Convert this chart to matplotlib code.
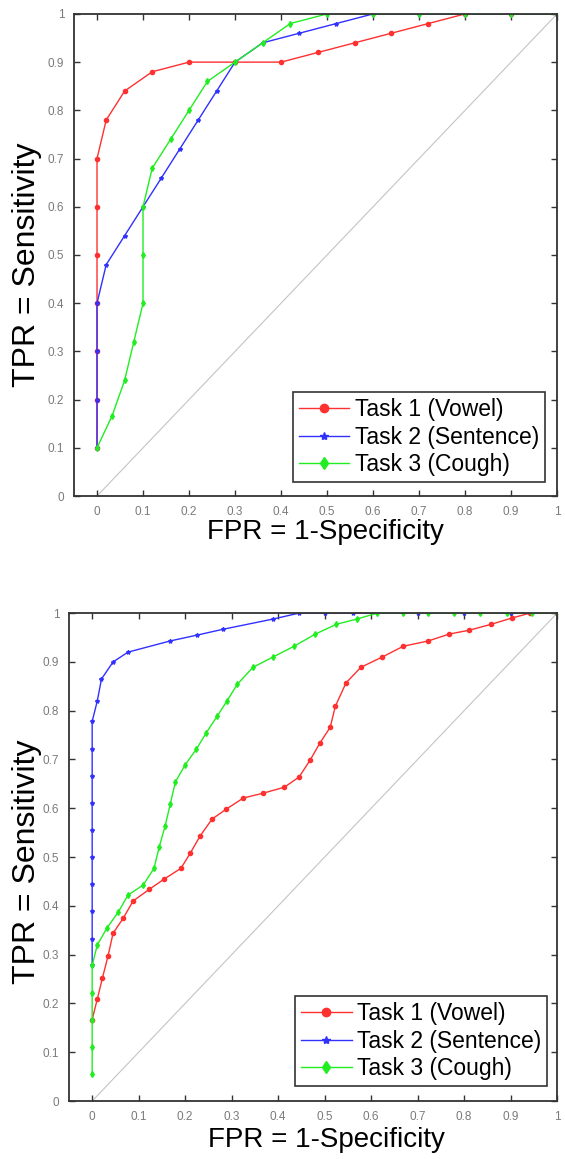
import numpy as np
import matplotlib
matplotlib.use("Agg")
import matplotlib.pyplot as plt

plt.rcParams["font.family"] = ["Liberation Sans", "DejaVu Sans"]

# ------------------------------------------------------------------------------
# ---- Data. -------------------------------------------------------------------
# ------------------------------------------------------------------------------

labels = ["Task 1 (Vowel)", "Task 2 (Sentence)", "Task 3 (Cough)"]
ticks = [0, 0.1, 0.2, 0.3, 0.4, 0.5, 0.6, 0.7, 0.8, 0.9, 1]
tick_labels = ["0", "0.1", "0.2", "0.3", "0.4", "0.5", "0.6", "0.7", "0.8",
    "0.9", "1"]

# Top panel.
top_t1_fpr = [0, 0, 0, 0, 0, 0, 0, 0.02, 0.06, 0.12, 0.2, 0.3, 0.4, 0.48,
    0.56, 0.64, 0.72, 0.8, 0.9, 1.0]
top_t1_tpr = [0.1, 0.2, 0.3, 0.4, 0.5, 0.6, 0.7, 0.78, 0.84, 0.88, 0.9, 0.9,
    0.9, 0.92, 0.94, 0.96, 0.98, 1.0, 1.0, 1.0]

top_t2_fpr = [0, 0, 0, 0, 0.02, 0.06, 0.1, 0.14, 0.18, 0.22, 0.26, 0.3, 0.36,
    0.44, 0.52, 0.6, 0.7, 0.8, 0.9, 1.0]
top_t2_tpr = [0.1, 0.2, 0.3, 0.4, 0.48, 0.54, 0.6, 0.66, 0.72, 0.78, 0.84,
    0.9, 0.94, 0.96, 0.98, 1.0, 1.0, 1.0, 1.0, 1.0]

top_t3_fpr = [0, 0.033, 0.06, 0.08, 0.1, 0.1, 0.1, 0.12, 0.16, 0.2, 0.24, 0.3,
    0.36, 0.42, 0.5, 0.6, 0.7, 0.8, 0.9, 1.0]
top_t3_tpr = [0.1, 0.167, 0.24, 0.32, 0.4, 0.5, 0.6, 0.68, 0.74, 0.8, 0.86,
    0.9, 0.94, 0.98, 1.0, 1.0, 1.0, 1.0, 1.0, 1.0]

# Bottom panel.
bot_t1_fpr = [0, 0.011, 0.022, 0.034, 0.045, 0.067, 0.088, 0.123, 0.155,
    0.191, 0.211, 0.232, 0.258, 0.288, 0.325, 0.368, 0.413, 0.445, 0.469,
    0.49, 0.512, 0.523, 0.546, 0.578, 0.624, 0.669, 0.723, 0.768, 0.811,
    0.858, 0.903, 0.942, 1.0]
bot_t1_tpr = [0.167, 0.209, 0.252, 0.297, 0.344, 0.375, 0.41, 0.434, 0.455,
    0.477, 0.508, 0.543, 0.578, 0.598, 0.621, 0.631, 0.643, 0.664, 0.699,
    0.734, 0.766, 0.809, 0.857, 0.889, 0.91, 0.932, 0.943, 0.957, 0.965,
    0.977, 0.99, 1.0, 1.0]

bot_t2_fpr = [0, 0, 0, 0, 0, 0, 0, 0, 0, 0, 0.011, 0.02, 0.045, 0.077, 0.168,
    0.226, 0.282, 0.39, 0.445, 0.5, 0.56, 0.7, 0.8, 0.9, 1.0]
bot_t2_tpr = [0.278, 0.333, 0.389, 0.444, 0.5, 0.556, 0.611, 0.667, 0.722,
    0.778, 0.82, 0.865, 0.9, 0.92, 0.943, 0.955, 0.967, 0.988, 1.0, 1.0, 1.0,
    1.0, 1.0, 1.0, 1.0]

bot_t3_fpr = [0, 0, 0, 0, 0, 0.011, 0.032, 0.056, 0.077, 0.11, 0.133, 0.144,
    0.157, 0.168, 0.179, 0.2, 0.224, 0.245, 0.269, 0.29, 0.312, 0.346, 0.389,
    0.434, 0.48, 0.525, 0.57, 0.613, 0.669, 0.723, 0.778, 0.834, 0.892,
    0.946, 1.0]
bot_t3_tpr = [0.056, 0.111, 0.167, 0.222, 0.278, 0.32, 0.355, 0.387, 0.422,
    0.443, 0.477, 0.52, 0.564, 0.609, 0.654, 0.689, 0.721, 0.754, 0.789, 0.82,
    0.854, 0.889, 0.91, 0.932, 0.957, 0.977, 0.988, 1.0, 1.0, 1.0, 1.0, 1.0,
    1.0, 1.0, 1.0]

# ------------------------------------------------------------------------------
# ---- Plotting. ---------------------------------------------------------------
# ------------------------------------------------------------------------------

colors = ["#ff3030", "#3030ff", "#20ee20"]
markers = ["o", "*", "d"]


def draw_panel(ax, curves, legend_anchor):
    # Chance diagonal.
    ax.plot([0, 1], [0, 1], color="#c4c4c4", linewidth=0.8, zorder=1)

    for (fpr, tpr), color, marker, label in zip(curves, colors, markers, \
        labels):
        ax.plot(fpr, tpr, color=color, marker=marker, markersize=3,
            linewidth=1.0, label=label, zorder=2)

    ax.set_xlim(-0.05, 1.0)
    ax.set_ylim(0, 1)
    ax.set_xticks(ticks)
    ax.set_xticklabels(tick_labels)
    ax.set_yticks(ticks)
    ax.set_yticklabels(tick_labels)
    ax.tick_params(direction="in", length=4, width=1.0, color="#333333",
        labelcolor="#7a7a7a", labelsize=8.5, top=True, right=True, pad=7)
    for spine in ax.spines.values():
        spine.set_color("#333333")
        spine.set_linewidth(1.3)

    ax.set_xlabel("FPR = 1-Specificity", fontsize=20, color="black")
    ax.set_ylabel("TPR = Sensitivity", fontsize=23, color="black")

    leg = ax.legend(loc="lower right", bbox_to_anchor=legend_anchor,
        borderaxespad=0, fontsize=16.5, handlelength=2.2, handletextpad=0.25,
        borderpad=0.25, labelspacing=0.2, markerscale=2.0, fancybox=False,
        framealpha=1.0)
    leg.get_frame().set_edgecolor("#333333")
    leg.get_frame().set_linewidth(1.2)


fig = plt.figure(figsize=(5.65, 11.59), dpi=100)
ax1 = fig.add_axes([0.131, 0.572, 0.855, 0.416])
ax2 = fig.add_axes([0.122, 0.050, 0.864, 0.421])

draw_panel(ax1, [(top_t1_fpr, top_t1_tpr), (top_t2_fpr, top_t2_tpr),
    (top_t3_fpr, top_t3_tpr)], (0.975, 0.029))
draw_panel(ax2, [(bot_t1_fpr, bot_t1_tpr), (bot_t2_fpr, bot_t2_tpr),
    (bot_t3_fpr, bot_t3_tpr)], (0.98, 0.031))

# Label positions.
ax1.xaxis.label.set_verticalalignment("center")
ax1.xaxis.set_label_coords(0.52, -0.075)
ax1.yaxis.label.set_verticalalignment("center")
ax1.yaxis.set_label_coords(-0.097, 0.48)
ax2.xaxis.label.set_verticalalignment("center")
ax2.xaxis.set_label_coords(0.527, -0.08)
ax2.yaxis.label.set_verticalalignment("center")
ax2.yaxis.set_label_coords(-0.086, 0.49)

fig.savefig("out.png", dpi=100)
